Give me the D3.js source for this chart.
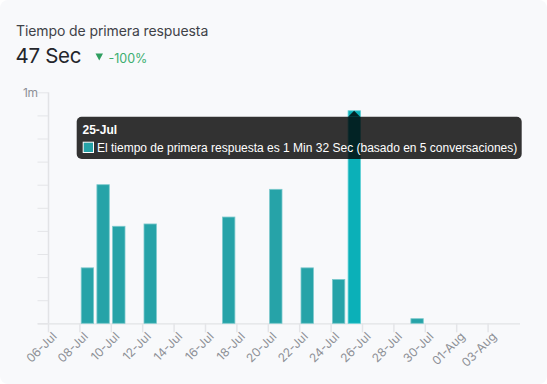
<!DOCTYPE html>
<html>
<head>
<meta charset="utf-8">
<script src="https://cdn.jsdelivr.net/npm/d3@7"></script>
<style>
  html, body { margin: 0; padding: 0; background: #ffffff; }
  svg { display: block; }
</style>
</head>
<body>
<svg id="chart" width="547" height="384"></svg>
<script>
// Tiempo de primera respuesta - bar chart per day
const svg = d3.select('#chart');
const width = +svg.attr('width');
const height = +svg.attr('height');

// Data (seconds per day)
const barDates = ['2024-07-08', '2024-07-09', '2024-07-10', '2024-07-12', '2024-07-17',
                  '2024-07-20', '2024-07-22', '2024-07-24', '2024-07-25', '2024-07-29'];
const barSeconds = [24, 60, 42, 43, 46, 58, 24, 19, 92, 2];
const xTickDates = ['2024-07-06', '2024-07-08', '2024-07-10', '2024-07-12', '2024-07-14',
                    '2024-07-16', '2024-07-18', '2024-07-20', '2024-07-22', '2024-07-24',
                    '2024-07-26', '2024-07-28', '2024-07-30', '2024-08-01', '2024-08-03'];
const xTickLabels = ['06-Jul', '08-Jul', '10-Jul', '12-Jul', '14-Jul', '16-Jul', '18-Jul',
                     '20-Jul', '22-Jul', '24-Jul', '26-Jul', '28-Jul', '30-Jul', '01-Aug', '03-Aug'];
const yTicks = [0, 10, 20, 30, 40, 50, 60, 70, 80, 90, 100];
const yTickLabels = ['', '', '', '', '', '', '', '', '', '', '1m'];
const activeDate = '2024-07-25';
const tooltipTitle = '25-Jul';
const tooltipText = 'El tiempo de primera respuesta es 1 Min 32 Sec (basado en 5 conversaciones)';

const parse = d3.timeParse('%Y-%m-%d');

// Layout
const plotLeft = 48, plotRight = 519, plotTop = 92.3, plotBottom = 323.3;
const barColor = '#26a3a8';
const barStroke = '#7cc9cc';
const activeColor = '#0bb0b8';
const uiFont = 'Inter, "Open Sans", sans-serif';

// Card background
svg.append('rect')
    .attr('x', 0).attr('y', 0)
    .attr('width', width).attr('height', height)
    .attr('rx', 8)
    .attr('fill', '#f8f9fb');

// Header
svg.append('text')
    .attr('x', 16).attr('y', 36)
    .attr('font-family', uiFont)
    .attr('font-size', 14)
    .attr('letter-spacing', -0.1)
    .attr('fill', '#3f4248')
    .text('Tiempo de primera respuesta');
svg.append('text')
    .attr('x', 15.5).attr('y', 63)
    .attr('font-family', uiFont)
    .attr('font-size', 20.5)
    .attr('letter-spacing', -0.3)
    .attr('fill', '#24262b')
    .text('47 Sec');
svg.append('path')
    .attr('d', 'M95.5,53.5 L103,53.5 L99.25,60.5 Z')
    .attr('fill', '#2f9e5f');
svg.append('text')
    .attr('x', 108.5).attr('y', 63)
    .attr('font-family', uiFont)
    .attr('font-size', 12.5)
    .attr('fill', '#3cae6f')
    .text('-100%');

// Scales
const x = d3.scaleTime()
    .domain([parse('2024-07-06'), parse('2024-08-05')])
    .range([plotLeft, plotRight]);
const y = d3.scaleLinear()
    .domain([0, 100])
    .range([plotBottom, plotTop]);

// Y axis
const yAxis = svg.append('g')
    .attr('transform', `translate(${plotLeft},0)`)
    .call(d3.axisLeft(y).tickValues(yTicks).tickSize(10.5).tickPadding(0)
        .tickFormat((d, i) => yTickLabels[i]));
yAxis.select('.domain').attr('stroke', '#e2e3e6').attr('stroke-width', 1.5)
    .attr('d', `M0.5,${plotTop}V${plotBottom}`);
yAxis.selectAll('.tick line').attr('stroke', '#e4e5e8');
yAxis.selectAll('.tick text')
    .attr('font-family', uiFont)
    .attr('font-size', 12)
    .attr('letter-spacing', -0.4)
    .attr('fill', '#8d9096');

// X axis
const xAxis = svg.append('g')
    .attr('transform', `translate(0,${plotBottom})`)
    .call(d3.axisBottom(x).tickValues(xTickDates.map(parse)).tickSize(9)
        .tickFormat((d, i) => xTickLabels[i]));
xAxis.select('.domain').attr('stroke', '#e2e3e6').attr('stroke-width', 1.2)
    .attr('d', `M37.7,0.5H${plotRight + 1}`);
xAxis.selectAll('.tick line').attr('stroke', '#e4e5e8').attr('stroke-width', 1.5);
xAxis.selectAll('.tick text')
    .attr('font-family', uiFont)
    .attr('font-size', 12)
    .attr('fill', '#8d9096')
    .attr('text-anchor', 'end')
    .attr('dy', null)
    .attr('transform', 'translate(9,14) rotate(-45)')
    .attr('y', 0);

// Bars
const bars = barDates.map((d, i) => ({ date: parse(d), key: d, value: barSeconds[i] }));
svg.append('g').selectAll('rect')
    .data(bars)
    .join('rect')
    .attr('x', d => x(d.date) + 1.8)
    .attr('y', d => y(d.value))
    .attr('width', d => x(d3.timeDay.offset(d.date, 1)) - x(d.date) - 3.3)
    .attr('height', d => y(0) - y(d.value))
    .attr('fill', d => d.key === activeDate ? activeColor : barColor)
    .attr('stroke', d => d.key === activeDate ? '#5fd0d5' : barStroke)
    .attr('stroke-width', 0.8);

// Tooltip
const active = bars.find(d => d.key === activeDate);
const caretX = x(active.date) + (x(d3.timeDay.offset(active.date, 1)) - x(active.date)) / 2;
const tip = svg.append('g');
tip.append('rect')
    .attr('x', 76.7).attr('y', 116.7)
    .attr('width', 445).attr('height', 42.3)
    .attr('rx', 5)
    .attr('fill', 'rgba(0,0,0,0.8)');
tip.append('path')
    .attr('d', `M${caretX - 6},116.7 L${caretX},110.7 L${caretX + 6},116.7 Z`)
    .attr('fill', 'rgba(0,0,0,0.8)');
tip.append('text')
    .attr('x', 82.5).attr('y', 134)
    .attr('font-family', '"Liberation Sans", Arial, sans-serif')
    .attr('font-size', 12)
    .attr('font-weight', 'bold')
    .attr('fill', '#ffffff')
    .text(tooltipTitle);
tip.append('rect')
    .attr('x', 83.2).attr('y', 142.2)
    .attr('width', 10.3).attr('height', 10.3)
    .attr('fill', barColor)
    .attr('stroke', '#ffffff')
    .attr('stroke-width', 1);
tip.append('text')
    .attr('x', 97).attr('y', 152)
    .attr('font-family', '"Liberation Sans", Arial, sans-serif')
    .attr('font-size', 12)
    .attr('fill', '#ffffff')
    .text(tooltipText);
</script>
</body>
</html>
